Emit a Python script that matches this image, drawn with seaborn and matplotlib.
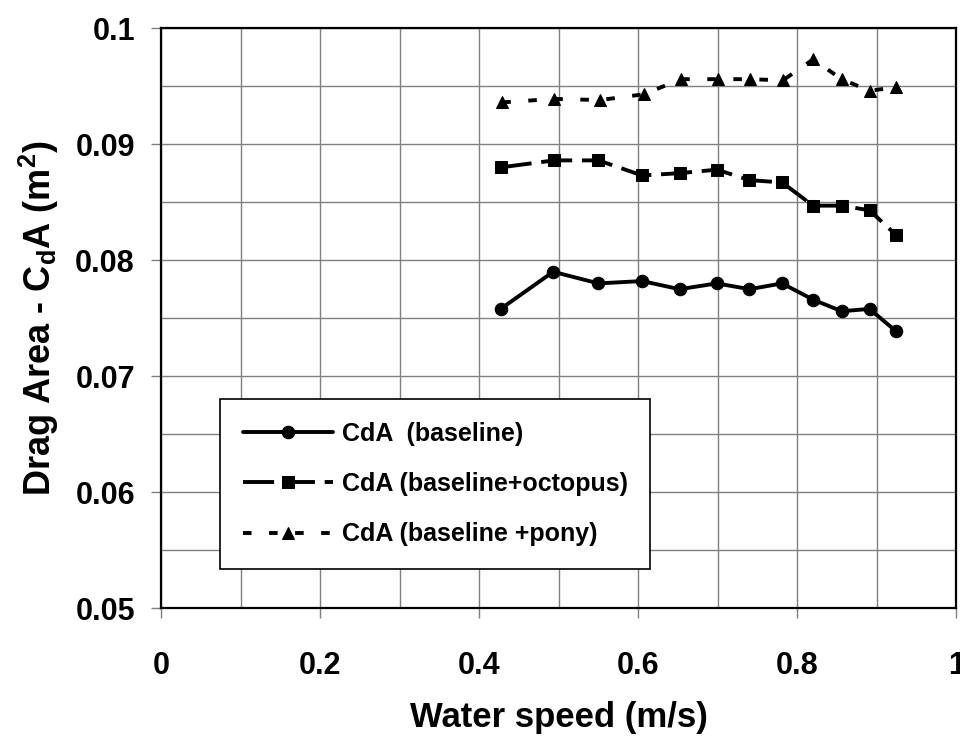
import matplotlib
matplotlib.use("Agg")
import matplotlib.pyplot as plt
import pandas as pd
import seaborn as sns
from matplotlib.ticker import MultipleLocator

# values
speed_baseline = [0.427, 0.493, 0.550, 0.605, 0.652, 0.699, 0.740, 0.781, 0.820, 0.856, 0.891, 0.924]
cda_baseline = [0.0758, 0.0790, 0.0780, 0.0782, 0.0775, 0.0780, 0.0775, 0.0780, 0.0766, 0.0756, 0.0758, 0.0739]

speed_octopus = [0.427, 0.494, 0.550, 0.605, 0.652, 0.699, 0.740, 0.781, 0.820, 0.856, 0.891, 0.924]
cda_octopus = [0.0880, 0.0886, 0.0886, 0.0873, 0.0875, 0.0878, 0.0869, 0.0867, 0.0847, 0.0847, 0.0843, 0.0822]

speed_pony = [0.429, 0.494, 0.552, 0.607, 0.654, 0.701, 0.741, 0.782, 0.820, 0.856, 0.891, 0.924]
cda_pony = [0.0936, 0.0939, 0.0938, 0.0943, 0.0956, 0.0956, 0.0956, 0.0955, 0.0973, 0.0956, 0.0946, 0.0949]

names = ["CdA  (baseline)", "CdA (baseline+octopus)", "CdA (baseline +pony)"]

df = pd.concat([
    pd.DataFrame({"speed": speed_baseline, "cda": cda_baseline, "series": names[0]}),
    pd.DataFrame({"speed": speed_octopus, "cda": cda_octopus, "series": names[1]}),
    pd.DataFrame({"speed": speed_pony, "cda": cda_pony, "series": names[2]}),
], ignore_index=True)

sns.set_style("white")
plt.rcParams["font.family"] = ["Liberation Sans", "DejaVu Sans"]
plt.rcParams["font.weight"] = "bold"
plt.rcParams["mathtext.default"] = "bf"
plt.rcParams["text.color"] = "black"
plt.rcParams["axes.labelcolor"] = "black"
plt.rcParams["xtick.color"] = "black"
plt.rcParams["ytick.color"] = "black"

fig = plt.figure(figsize=(9.6, 7.4), dpi=100)
ax = fig.add_axes([0.168, 0.178, 0.828, 0.784])

sns.lineplot(
    data=df, x="speed", y="cda", hue="series", style="series",
    palette=["black"] * 3,
    dashes={names[0]: "", names[1]: (8, 2.5), names[2]: (2.2, 4.5)},
    markers={names[0]: "o", names[1]: "s", names[2]: "^"},
    markersize=9, linewidth=2.8, markeredgecolor="black",
    sort=False, errorbar=None, ax=ax,
)

ax.set_xlim(0, 1)
ax.set_ylim(0.05, 0.1)
ax.xaxis.set_major_locator(MultipleLocator(0.2))
ax.xaxis.set_minor_locator(MultipleLocator(0.1))
ax.yaxis.set_major_locator(MultipleLocator(0.01))
ax.yaxis.set_minor_locator(MultipleLocator(0.005))
ax.xaxis.set_major_formatter(plt.FuncFormatter(lambda v, p: f"{v:g}"))
ax.yaxis.set_major_formatter(plt.FuncFormatter(lambda v, p: f"{v:g}"))

ax.grid(which="both", color="#808080", linewidth=1.0)
ax.set_axisbelow(True)
for s in ax.spines.values():
    s.set_color("black")
    s.set_linewidth(1.6)

ax.tick_params(axis="both", which="major", direction="out", length=7, width=1,
               labelsize=22, color="#808080", labelcolor="black",
               bottom=True, left=True)
ax.tick_params(axis="x", which="major", pad=24)
ax.tick_params(axis="y", which="major", pad=12)
ax.tick_params(axis="both", which="minor", length=0)
for lbl in ax.get_xticklabels() + ax.get_yticklabels():
    lbl.set_fontweight("bold")

ax.set_xlabel("Water speed (m/s)", fontsize=25, fontweight="bold", labelpad=14)
ax.set_ylabel(r"Drag Area - C$_\mathregular{d}$A (m$^\mathregular{2}$)", fontsize=26,
              fontweight="bold", labelpad=10)

leg = ax.legend(
    loc="upper left", bbox_to_anchor=(0.0742, 0.360), frameon=True, fancybox=False,
    edgecolor="black", handlelength=3.6, labelspacing=1.05,
    borderpad=0.9, borderaxespad=0, handletextpad=0.35,
    prop={"weight": "bold", "size": 18},
)
leg.get_frame().set_linewidth(1.2)
leg.get_frame().set_alpha(1)

fig.savefig("out.png", dpi=100)
